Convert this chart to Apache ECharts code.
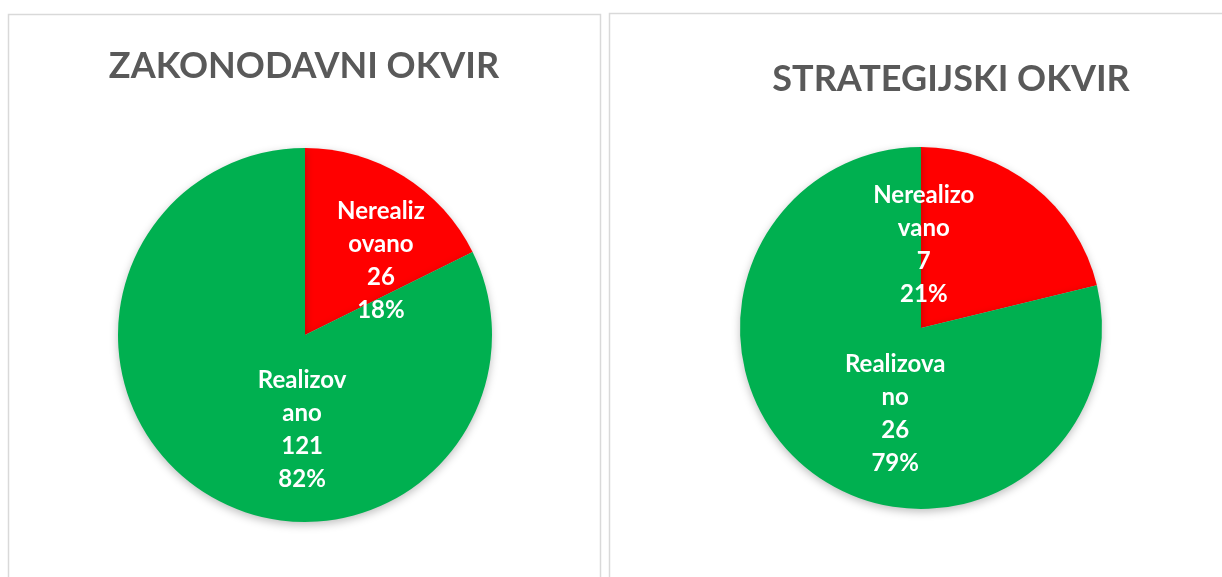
<!DOCTYPE html>
<html><head><meta charset="utf-8">
<script src="https://cdn.jsdelivr.net/npm/echarts@6/dist/echarts.min.js"></script>
<style>html,body{margin:0;padding:0;background:#fff}#c{width:1222px;height:577px}</style>
</head><body><div id="c"></div>
<script>
const categories = ['Nerealizovano', 'Realizovano'];
const leftTitle = 'ZAKONODAVNI OKVIR';
const rightTitle = 'STRATEGIJSKI OKVIR';
const leftValues = [26, 121];
const rightValues = [7, 26];
const leftLabelNames = ['Nerealiz\novano', 'Realizov\nano'];
const rightLabelNames = ['Nerealizo\nvano', 'Realizova\nno'];
const colors = ['#FF0000', '#00B050'];

const chart = echarts.init(document.getElementById('c'), null, {renderer: 'canvas'});

function makeData(values) {
  return categories.map((c, i) => ({name: c, value: values[i], itemStyle: {color: colors[i]}}));
}
function fmt(labelNames) {
  return p => labelNames[p.dataIndex] + '\n' + p.value + '\n' + Math.round(p.percent) + '%';
}
const labelStyle = {
  show: true, position: 'inside', color: '#fff', fontFamily: 'Lato', fontWeight: 'bold',
  fontSize: 24, lineHeight: 33, align: 'center'
};
const leftOffsets = [[25, 8], [48, 13]];
const rightOffsets = [[-55, -10], [32, 12]];

chart.setOption({
  animation: false,
  graphic: [
    {type: 'rect', shape: {x: 8.5, y: 14.5, width: 592, height: 600}, style: {fill: '#fff', stroke: '#d9d9d9', lineWidth: 1.5}, z: -10},
    {type: 'rect', shape: {x: 609.5, y: 13.5, width: 640, height: 600}, style: {fill: '#fff', stroke: '#d9d9d9', lineWidth: 1.5}, z: -10}
  ],
  title: [
    {text: leftTitle, left: 299, top: 61, textAlign: 'center', textVerticalAlign: 'middle',
     textStyle: {fontFamily: 'Lato', fontWeight: 'bold', fontSize: 36, color: '#595959'}},
    {text: rightTitle, left: 946, top: 74, textAlign: 'center', textVerticalAlign: 'middle',
     textStyle: {fontFamily: 'Lato', fontWeight: 'bold', fontSize: 36, color: '#595959'}}
  ],
  series: [
    {
      type: 'pie', center: [305, 335], radius: 187, startAngle: 90, clockwise: true,
      data: makeData(leftValues),
      label: Object.assign({}, labelStyle, {formatter: fmt(leftLabelNames)}),
      labelLine: {show: false},
      labelLayout: p => ({dx: leftOffsets[p.dataIndex][0], dy: leftOffsets[p.dataIndex][1]}),
      itemStyle: {shadowBlur: 8, shadowColor: 'rgba(0,0,0,0.25)', shadowOffsetY: 3},
      emphasis: {disabled: true}
    },
    {
      type: 'pie', center: [921, 328], radius: 181, startAngle: 90, clockwise: true,
      data: makeData(rightValues),
      label: Object.assign({}, labelStyle, {formatter: fmt(rightLabelNames)}),
      labelLine: {show: false},
      labelLayout: p => ({dx: rightOffsets[p.dataIndex][0], dy: rightOffsets[p.dataIndex][1]}),
      itemStyle: {shadowBlur: 8, shadowColor: 'rgba(0,0,0,0.25)', shadowOffsetY: 3},
      emphasis: {disabled: true}
    }
  ]
});
</script></body></html>
